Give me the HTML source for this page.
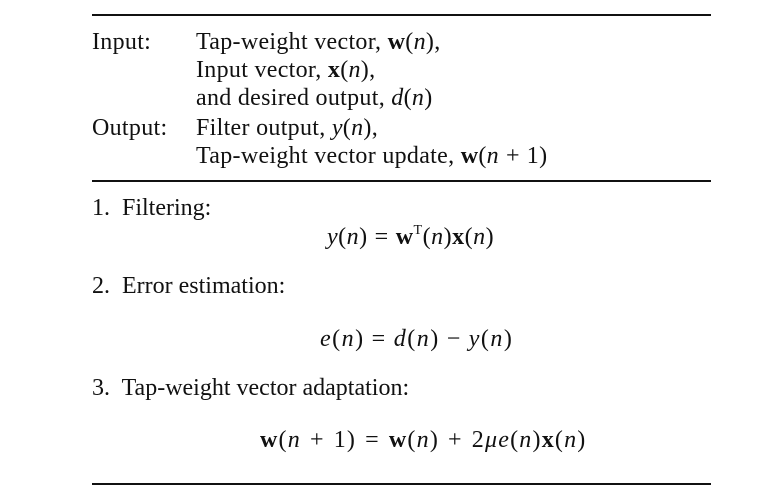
<!DOCTYPE html>
<html><head><meta charset="utf-8"><style>
html,body{margin:0;padding:0;background:#fff;}
#c{position:relative;width:764px;height:495px;overflow:hidden;font-family:"Liberation Serif","DejaVu Serif",serif;font-size:24px;color:#111;}
.t{position:absolute;line-height:28px;white-space:nowrap;letter-spacing:0.3px;}
.s{letter-spacing:0}
.eq{letter-spacing:1.2px}
.r{position:absolute;left:92px;width:619px;height:2px;background:#111;}
b{font-weight:bold}
i{font-style:italic}
.o{margin:0 7px}
sup{font-size:14px;vertical-align:10px;line-height:0}
</style></head><body>
<div id="c">
<div class="r" style="top:14px"></div>
<div class="t" style="left:92px;top:28px">Input:</div>
<div class="t" style="left:196px;top:28px">Tap-weight vector, <b>w</b>(<i>n</i>),</div>
<div class="t" style="left:196px;top:56px">Input vector, <b>x</b>(<i>n</i>),</div>
<div class="t" style="left:196px;top:84px">and desired output, <i>d</i>(<i>n</i>)</div>
<div class="t" style="left:92px;top:114px">Output:</div>
<div class="t" style="left:196px;top:114px">Filter output, <i>y</i>(<i>n</i>),</div>
<div class="t" style="left:196px;top:142px">Tap-weight vector update, <b>w</b>(<i>n</i><span class="o">+</span>1)</div>
<div class="r" style="top:180px"></div>
<div class="t s" style="left:92px;top:194px">1.&nbsp; Filtering:</div>
<div class="t" style="left:327px;top:223px;letter-spacing:0.5px"><i>y</i>(<i>n</i>)<span class="o">=</span><b>w</b><sup>T</sup>(<i>n</i>)<b>x</b>(<i>n</i>)</div>
<div class="t s" style="left:92px;top:272px">2.&nbsp; Error estimation:</div>
<div class="t eq" style="left:320px;top:325px;letter-spacing:1.5px"><i>e</i>(<i>n</i>)<span class="o">=</span><i>d</i>(<i>n</i>)<span class="o">−</span><i>y</i>(<i>n</i>)</div>
<div class="t s" style="left:92px;top:374px">3.&nbsp; Tap-weight vector adaptation:</div>
<div class="t eq" style="left:260px;top:426px"><b>w</b>(<i>n</i><span class="o" style="margin:0 9px">+</span>1)<span class="o" style="margin:0 9px">=</span><b>w</b>(<i>n</i>)<span class="o" style="margin:0 9px">+</span>2<i>μe</i>(<i>n</i>)<b>x</b>(<i>n</i>)</div>
<div class="r" style="top:483px"></div>
</div>
</body></html>
